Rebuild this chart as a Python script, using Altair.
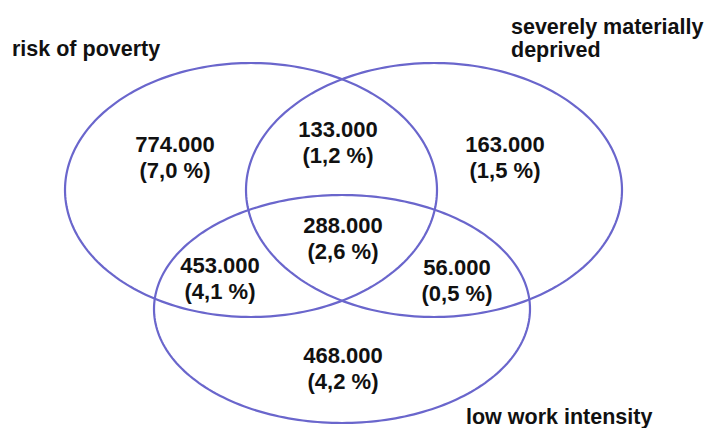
import altair as alt
import pandas as pd
import numpy as np

# Sets (names) and ellipse geometry (page pixel coordinates)
set_names = ["risk of poverty", "severely materially deprived", "low work intensity"]
ell_cx = [251, 434, 342]
ell_cy = [190, 190, 309]
ell_rx = [186, 188, 188]
ell_ry = [127, 127, 114]

# Region values
counts = ["774.000", "133.000", "163.000", "288.000", "453.000", "56.000", "468.000"]
shares = ["(7,0 %)", "(1,2 %)", "(1,5 %)", "(2,6 %)", "(4,1 %)", "(0,5 %)", "(4,2 %)"]
# label anchor positions (page pixels)
lab_x = [175, 338, 505, 343, 220, 457, 343]
lab_y = [145, 130, 145, 226, 266, 268, 356]

# Set titles (lines) and their positions
title_lines = ["risk of poverty", "severely materially", "deprived", "low work intensity"]
title_x = [12, 511, 511, 466]
title_y = [50, 28, 51, 418]

W, H, M = 696, 420, 8

rows = []
for k in range(3):
    for i, t in enumerate(np.linspace(0, 2 * np.pi, 241)):
        rows.append({
            "set": set_names[k],
            "i": i,
            "x": ell_cx[k] + ell_rx[k] * np.cos(t) - M,
            "y": ell_cy[k] + ell_ry[k] * np.sin(t) - M,
        })
ell_df = pd.DataFrame(rows)

lab_rows = []
for c, s, x, y in zip(counts, shares, lab_x, lab_y):
    lab_rows.append({"t": c, "x": x - M, "y": y - M})
    lab_rows.append({"t": s, "x": x - M, "y": y + 26 - M})
lab_df = pd.DataFrame(lab_rows)

tit_df = pd.DataFrame({"t": title_lines,
                       "x": [v - M for v in title_x],
                       "y": [v - M for v in title_y]})

xs = alt.Scale(domain=[0, W], range=[0, W], nice=False, zero=False)
ys = alt.Scale(domain=[0, H], range=[0, H], nice=False, zero=False)

ellipses = alt.Chart(ell_df).mark_line(
    color="#6a66cc", strokeWidth=2.2, clip=False
).encode(
    x=alt.X("x:Q", scale=xs, axis=None),
    y=alt.Y("y:Q", scale=ys, axis=None),
    detail="set:N",
    order="i:Q",
)

labels = alt.Chart(lab_df).mark_text(
    font="Liberation Sans", fontWeight="bold", fontSize=22,
    color="#111111", align="center", baseline="middle"
).encode(
    x=alt.X("x:Q", scale=xs, axis=None),
    y=alt.Y("y:Q", scale=ys, axis=None),
    text="t:N",
)

titles = alt.Chart(tit_df).mark_text(
    font="Liberation Sans", fontWeight="bold", fontSize=21.5,
    color="#111111", align="left", baseline="middle"
).encode(
    x=alt.X("x:Q", scale=xs, axis=None),
    y=alt.Y("y:Q", scale=ys, axis=None),
    text="t:N",
)

chart = alt.layer(ellipses, labels, titles).properties(
    width=W, height=H, padding=0, autosize="none", background="white"
).configure_view(stroke=None)

chart.save("out.html", embed_options={"renderer": "svg", "actions": False})
